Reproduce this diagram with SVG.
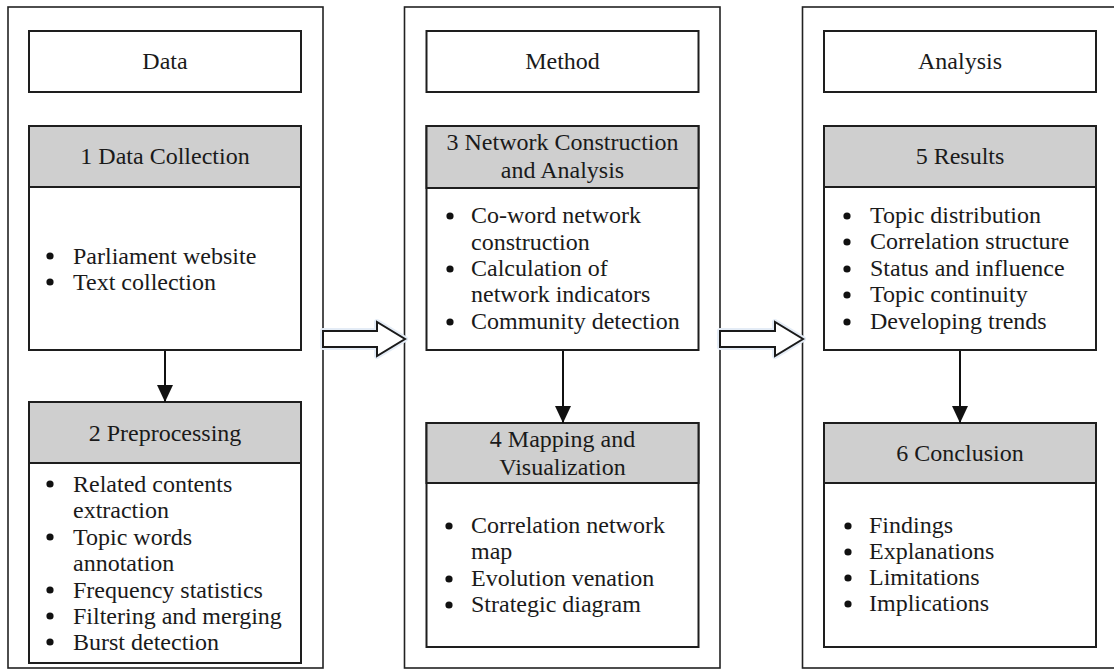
<svg xmlns="http://www.w3.org/2000/svg" width="1114" height="671" viewBox="0 0 1114 671">
  <defs>
    <style>
      .panel { fill: #ffffff; stroke: #222222; stroke-width: 1.6; }
      .box { fill: #ffffff; stroke: #1e1e1e; stroke-width: 2; }
      .head { fill: #cfcfcf; stroke: #1e1e1e; stroke-width: 2; }
      .t { font-family: "Liberation Serif", "Times New Roman", serif; font-size: 24px; fill: #1a1a1a; }
      .c { text-anchor: middle; }
      .link { stroke: #111111; stroke-width: 2; fill: none; }
      .block { fill: #ffffff; stroke: #1a1a1a; stroke-width: 2; stroke-linejoin: miter; }
      .glow { fill: none; stroke: #e4ecf6; stroke-width: 6; stroke-linejoin: round; }
    </style>
    <marker id="tri" viewBox="0 0 17 16" refX="17" refY="8" markerWidth="17" markerHeight="16" markerUnits="userSpaceOnUse" orient="auto">
      <path d="M0,0 L17,8 L0,16 Z" fill="#111111"/>
    </marker>
    <circle id="dot" r="3.6" fill="#111111"/>
  </defs>

  <rect width="1114" height="671" fill="#ffffff"/>

  <!-- column frames -->
  <g id="panel-data"><rect class="panel" x="8" y="7" width="315" height="661"/></g>
  <g id="panel-method"><rect class="panel" x="404.5" y="7" width="315.5" height="661"/></g>
  <g id="panel-analysis"><rect class="panel" x="802.5" y="7" width="320" height="661"/></g>

  <!-- column titles -->
  <g id="title-data">
    <rect class="box" x="29" y="31" width="272" height="61"/>
    <text class="t c" x="165" y="69">Data</text>
  </g>
  <g id="title-method">
    <rect class="box" x="426.5" y="31" width="272" height="61"/>
    <text class="t c" x="562.5" y="69">Method</text>
  </g>
  <g id="title-analysis">
    <rect class="box" x="824" y="31" width="272" height="61"/>
    <text class="t c" x="960" y="69">Analysis</text>
  </g>

  <!-- step 1 -->
  <g id="step1">
    <rect class="box" x="29" y="126" width="272" height="224"/>
    <rect class="head" x="29" y="126" width="272" height="61"/>
    <text class="t c" x="165" y="164">1 Data Collection</text>
    <use href="#dot" x="50" y="256"/>
    <text class="t" x="73" y="264">Parliament website</text>
    <use href="#dot" x="50" y="282"/>
    <text class="t" x="73" y="290">Text collection</text>
  </g>

  <!-- step 2 -->
  <g id="step2">
    <rect class="box" x="29" y="402" width="272" height="261"/>
    <rect class="head" x="29" y="402" width="272" height="61"/>
    <text class="t c" x="165" y="441">2 Preprocessing</text>
    <use href="#dot" x="50" y="484"/>
    <text class="t" x="73" y="492">Related contents</text>
    <text class="t" x="73" y="518">extraction</text>
    <use href="#dot" x="50" y="537"/>
    <text class="t" x="73" y="545">Topic words</text>
    <text class="t" x="73" y="571">annotation</text>
    <use href="#dot" x="50" y="590"/>
    <text class="t" x="73" y="598">Frequency statistics</text>
    <use href="#dot" x="50" y="616"/>
    <text class="t" x="73" y="624">Filtering and merging</text>
    <use href="#dot" x="50" y="642"/>
    <text class="t" x="73" y="650">Burst detection</text>
  </g>

  <!-- step 3 -->
  <g id="step3">
    <rect class="box" x="426.5" y="126" width="272" height="224"/>
    <rect class="head" x="426.5" y="126" width="272" height="62"/>
    <text class="t c" x="562.5" y="150">3 Network Construction</text>
    <text class="t c" x="562.5" y="178">and Analysis</text>
    <use href="#dot" x="450" y="216"/>
    <text class="t" x="471" y="223">Co-word network</text>
    <text class="t" x="471" y="250">construction</text>
    <use href="#dot" x="450" y="269"/>
    <text class="t" x="471" y="276">Calculation of</text>
    <text class="t" x="471" y="302">network indicators</text>
    <use href="#dot" x="450" y="322"/>
    <text class="t" x="471" y="329">Community detection</text>
  </g>

  <!-- step 4 -->
  <g id="step4">
    <rect class="box" x="426.5" y="423" width="272" height="224"/>
    <rect class="head" x="426.5" y="423" width="272" height="60"/>
    <text class="t c" x="562.5" y="447">4 Mapping and</text>
    <text class="t c" x="562.5" y="475">Visualization</text>
    <use href="#dot" x="449" y="526"/>
    <text class="t" x="471" y="533">Correlation network</text>
    <text class="t" x="471" y="559">map</text>
    <use href="#dot" x="449" y="579"/>
    <text class="t" x="471" y="586">Evolution venation</text>
    <use href="#dot" x="449" y="605"/>
    <text class="t" x="471" y="612">Strategic diagram</text>
  </g>

  <!-- step 5 -->
  <g id="step5">
    <rect class="box" x="824" y="126" width="272" height="224"/>
    <rect class="head" x="824" y="126" width="272" height="61"/>
    <text class="t c" x="960" y="164">5 Results</text>
    <use href="#dot" x="847" y="216"/>
    <text class="t" x="870" y="223">Topic distribution</text>
    <use href="#dot" x="847" y="242"/>
    <text class="t" x="870" y="249">Correlation structure</text>
    <use href="#dot" x="847" y="269"/>
    <text class="t" x="870" y="276">Status and influence</text>
    <use href="#dot" x="847" y="295"/>
    <text class="t" x="870" y="302">Topic continuity</text>
    <use href="#dot" x="847" y="322"/>
    <text class="t" x="870" y="329">Developing trends</text>
  </g>

  <!-- step 6 -->
  <g id="step6">
    <rect class="box" x="824" y="423" width="272" height="224"/>
    <rect class="head" x="824" y="423" width="272" height="60"/>
    <text class="t c" x="960" y="461">6 Conclusion</text>
    <use href="#dot" x="848" y="526"/>
    <text class="t" x="869" y="533">Findings</text>
    <use href="#dot" x="848" y="552"/>
    <text class="t" x="869" y="559">Explanations</text>
    <use href="#dot" x="848" y="578"/>
    <text class="t" x="869" y="585">Limitations</text>
    <use href="#dot" x="848" y="604"/>
    <text class="t" x="869" y="611">Implications</text>
  </g>

  <!-- connectors -->
  <g id="connectors">
    <line class="link" x1="165" y1="351" x2="165" y2="402" marker-end="url(#tri)"/>
    <line class="link" x1="563" y1="351" x2="563" y2="423" marker-end="url(#tri)"/>
    <line class="link" x1="960" y1="351" x2="960" y2="423" marker-end="url(#tri)"/>

    <path class="glow" d="M323,331 H377 V322 L405,339 L377,356 V347 H323 Z"/>
    <path class="block" d="M323,331 H377 V322 L405,339 L377,356 V347 H323 Z"/>
    <path class="glow" d="M720,331 H775 V322 L803,339 L775,356 V347 H720 Z"/>
    <path class="block" d="M720,331 H775 V322 L803,339 L775,356 V347 H720 Z"/>
  </g>
</svg>
